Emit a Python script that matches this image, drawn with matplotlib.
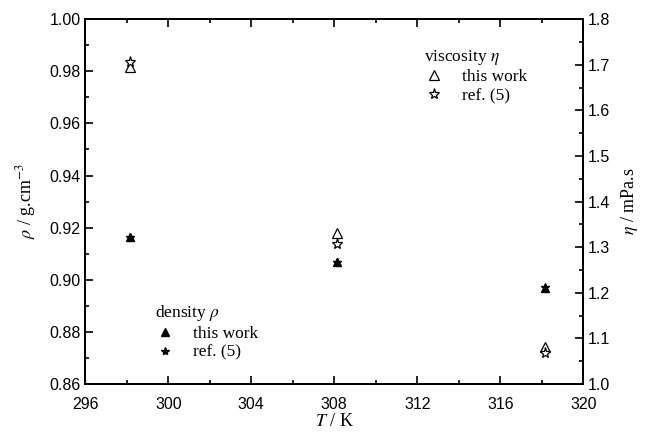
import matplotlib

matplotlib.use("Agg")
import matplotlib.pyplot as plt
from matplotlib.ticker import MultipleLocator

# --- data -----------------------------------------------------------------
T = [298.15, 308.15, 318.15]
rho_this = [0.9165, 0.9068, 0.8970]
rho_ref = [0.9163, 0.9070, 0.8972]
eta_this = [1.695, 1.331, 1.081]
eta_ref = [1.705, 1.307, 1.068]

plt.rcParams["mathtext.fontset"] = "stix"
SERIF = "Liberation Serif"
SANS = "Liberation Sans"

fig = plt.figure(figsize=(6.51, 4.34), dpi=100)
ax = fig.add_axes([0.131, 0.115, 0.765, 0.841])
ax2 = ax.twinx()

l1, = ax.plot(T, rho_this, "^", color="black", ms=6, ls="none")
l2, = ax.plot(T, rho_ref, "*", color="black", ms=6, ls="none")
l3, = ax2.plot(T, eta_this, "^", mfc="white", mec="black", ms=7, mew=0.9, ls="none")
l4, = ax2.plot(T, eta_ref, "*", mfc="white", mec="black", ms=8, mew=0.9, ls="none")

ax.set_xlim(296, 320)
ax.set_ylim(0.86, 1.00)
ax2.set_ylim(1.0, 1.8)

ax.xaxis.set_major_locator(MultipleLocator(4))
ax.xaxis.set_minor_locator(MultipleLocator(2))
ax.yaxis.set_major_locator(MultipleLocator(0.02))
ax.yaxis.set_minor_locator(MultipleLocator(0.01))
ax2.yaxis.set_major_locator(MultipleLocator(0.1))
ax2.yaxis.set_minor_locator(MultipleLocator(0.05))
ax.yaxis.set_major_formatter(matplotlib.ticker.FormatStrFormatter("%.2f"))
ax2.yaxis.set_major_formatter(matplotlib.ticker.FormatStrFormatter("%.1f"))

ax.tick_params(which="both", direction="in", top=True, width=1.2, labelsize=11.5)
ax.tick_params(which="major", length=6)
ax.tick_params(which="minor", length=3)
ax.tick_params(axis="x", which="major", pad=9)
ax2.tick_params(which="both", direction="in", width=1.2, labelsize=11.5)
ax2.tick_params(which="major", length=6)
ax2.tick_params(which="minor", length=3)
for a in (ax, ax2):
    for lab in a.get_xticklabels() + a.get_yticklabels():
        lab.set_fontfamily(SANS)
    for sp in a.spines.values():
        sp.set_linewidth(1.4)

ax.set_xlabel(r"$T$ / K", fontsize=13, family=SERIF, labelpad=1)
ax.set_ylabel(r"$\rho$ / g.cm$^{-3}$", fontsize=13, family=SERIF, labelpad=8)
ax2.set_ylabel(r"$\eta$ / mPa.s", fontsize=13, family=SERIF, labelpad=6)

leg1 = ax2.legend([l3, l4], ["this work", "ref. (5)"], title=r"viscosity $\eta$",
                  loc="upper left", bbox_to_anchor=(0.655, 0.955), frameon=False,
                  prop={"family": SERIF, "size": 12.5}, title_fontproperties={"family": SERIF, "size": 12.5},
                  alignment="left", handlelength=1.2, handletextpad=1.0, labelspacing=0.15,
                  borderpad=0.2)
leg2 = ax2.legend([l1, l2], ["this work", "ref. (5)"], title=r"density $\rho$",
                  loc="upper left", bbox_to_anchor=(0.115, 0.255), frameon=False,
                  prop={"family": SERIF, "size": 12.5}, title_fontproperties={"family": SERIF, "size": 12.5},
                  alignment="left", handlelength=1.2, handletextpad=1.0, labelspacing=0.15,
                  borderpad=0.2)
ax2.add_artist(leg1)

fig.savefig("out.png", dpi=100)
